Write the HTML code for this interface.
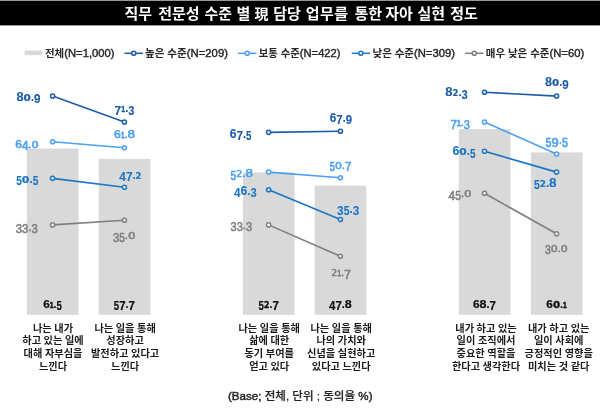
<!DOCTYPE html>
<html lang="ko"><head><meta charset="utf-8"><title>chart</title>
<style>
html,body{margin:0;padding:0;background:#fff;}
body{width:600px;height:411px;overflow:hidden;}
svg{display:block;}
text{font-family:"Liberation Sans","Noto Sans CJK KR",sans-serif;}
.t{font-size:15px;font-weight:700;fill:#fff;}
.lg{font-size:10.6px;font-weight:700;fill:#262626;}
.lg tspan{font-size:11.4px;font-weight:400;stroke:#262626;stroke-width:0.4px;}
.cat{font-size:10.2px;font-weight:700;fill:#1a1a1a;text-anchor:middle;word-spacing:-0.25px;}
.base{font-size:11.5px;font-weight:500;fill:#262626;stroke:#262626;stroke-width:0.2px;}
.base tspan{stroke-width:0.45px;}
</style></head><body>
<svg width="600" height="411" viewBox="0 0 600 411">
<rect width="600" height="411" fill="#fff"/>
<rect x="0" y="0.6" width="600" height="24.8" fill="#000"/>
<text class="t" y="18.5"><tspan x="124.4">직무</tspan> <tspan x="158.15">전문성</tspan> <tspan x="204.4">수준</tspan> <tspan x="236.4">별</tspan> <tspan x="254.4" font-size="14">現</tspan> <tspan x="273.15">담당</tspan> <tspan x="305.65" letter-spacing="0.5">업무를</tspan> <tspan x="354.4">통한</tspan> <tspan x="385.2">자아</tspan> <tspan x="417.5">실현</tspan> <tspan x="450.2">정도</tspan></text>

<rect x="24.5" y="50.6" width="17.5" height="4.6" fill="#d9d9d9"/>
<text class="lg" x="45" y="57.2" textLength="69.5" lengthAdjust="spacingAndGlyphs">전체<tspan>(N=1,000)</tspan></text>
<line x1="124.5" y1="53.3" x2="143" y2="53.3" stroke="#1d5ba8" stroke-width="1.5"/>
<circle cx="133.75" cy="53.3" r="2.05" fill="#fff" stroke="#1d5ba8" stroke-width="1.5"/>
<text class="lg" x="145" y="57.2" textLength="83" lengthAdjust="spacingAndGlyphs">높은 수준<tspan>(N=209)</tspan></text>
<line x1="238" y1="53.3" x2="256.5" y2="53.3" stroke="#4da0f0" stroke-width="1.5"/>
<circle cx="247.25" cy="53.3" r="2.05" fill="#fff" stroke="#4da0f0" stroke-width="1.5"/>
<text class="lg" x="258.75" y="57.2" textLength="81.75" lengthAdjust="spacingAndGlyphs">보통 수준<tspan>(N=422)</tspan></text>
<line x1="351.75" y1="53.3" x2="370" y2="53.3" stroke="#1a75c5" stroke-width="1.5"/>
<circle cx="360.875" cy="53.3" r="2.05" fill="#fff" stroke="#1a75c5" stroke-width="1.5"/>
<text class="lg" x="372.5" y="57.2" textLength="82.5" lengthAdjust="spacingAndGlyphs">낮은 수준<tspan>(N=309)</tspan></text>
<line x1="465" y1="53.3" x2="483.5" y2="53.3" stroke="#7f7f7f" stroke-width="1.5"/>
<circle cx="474.25" cy="53.3" r="2.05" fill="#fff" stroke="#7f7f7f" stroke-width="1.5"/>
<text class="lg" x="485.75" y="57.2" textLength="98.5" lengthAdjust="spacingAndGlyphs">매우 낮은 수준<tspan>(N=60)</tspan></text>
<rect x="26.9" y="148.581" width="51.6" height="166.219" fill="#d9d9d9"/>
<rect x="98.7" y="158.864" width="51.6" height="155.936" fill="#d9d9d9"/>
<text fill="#111" font-weight="700"><tspan x="43.26" y="308.10" font-size="11.55" textLength="6.58" lengthAdjust="spacingAndGlyphs" stroke="#111" stroke-width="0.20">6</tspan><tspan x="49.84" y="308.10" font-size="8.81" textLength="3.78" lengthAdjust="spacingAndGlyphs" stroke="#111" stroke-width="0.53">1</tspan><tspan x="53.62" y="308.10" font-size="11.55" textLength="3.00" lengthAdjust="spacingAndGlyphs" stroke="#111" stroke-width="0.20">.</tspan><tspan x="56.62" y="310.26" font-size="11.95" textLength="5.33" lengthAdjust="spacingAndGlyphs" stroke="#111" stroke-width="0.20">5</tspan></text>
<text class="cat" x="53" y="331.7">나는 내가</text>
<text class="cat" x="53" y="344.3">하고 있는 일에</text>
<text class="cat" x="53" y="356.9">대해 자부심을</text>
<text class="cat" x="53" y="369.5">느낀다</text>
<text fill="#111" font-weight="700"><tspan x="113.85" y="310.26" font-size="11.95" textLength="5.33" lengthAdjust="spacingAndGlyphs" stroke="#111" stroke-width="0.20">5</tspan><tspan x="119.17" y="310.26" font-size="11.95" textLength="6.39" lengthAdjust="spacingAndGlyphs" stroke="#111" stroke-width="0.20">7</tspan><tspan x="125.56" y="308.10" font-size="11.55" textLength="3.00" lengthAdjust="spacingAndGlyphs" stroke="#111" stroke-width="0.20">.</tspan><tspan x="128.56" y="310.26" font-size="11.95" textLength="6.39" lengthAdjust="spacingAndGlyphs" stroke="#111" stroke-width="0.20">7</tspan></text>
<text class="cat" x="125.1" y="331.7">나는 일을 통해</text>
<text class="cat" x="125.1" y="344.3">성장하고</text>
<text class="cat" x="125.1" y="356.9">발전하고 있다고</text>
<text class="cat" x="125.1" y="369.5">느낀다</text>
<line x1="52.6" y1="224.89" x2="124.4" y2="220.29" stroke="#7f7f7f" stroke-width="1.6"/>
<circle cx="52.6" cy="224.89" r="2.05" fill="#fff" stroke="#7f7f7f" stroke-width="1.5"/>
<circle cx="124.4" cy="220.29" r="2.05" fill="#fff" stroke="#7f7f7f" stroke-width="1.5"/>
<line x1="52.6" y1="178.347" x2="124.4" y2="187.277" stroke="#1a75c5" stroke-width="1.6"/>
<circle cx="52.6" cy="178.347" r="2.05" fill="#fff" stroke="#1a75c5" stroke-width="1.5"/>
<circle cx="124.4" cy="187.277" r="2.05" fill="#fff" stroke="#1a75c5" stroke-width="1.5"/>
<line x1="52.6" y1="141.816" x2="124.4" y2="147.769" stroke="#4da0f0" stroke-width="1.6"/>
<circle cx="52.6" cy="141.816" r="2.05" fill="#fff" stroke="#4da0f0" stroke-width="1.5"/>
<circle cx="124.4" cy="147.769" r="2.05" fill="#fff" stroke="#4da0f0" stroke-width="1.5"/>
<line x1="52.6" y1="96.0846" x2="124.4" y2="122.062" stroke="#1d5ba8" stroke-width="1.6"/>
<circle cx="52.6" cy="96.0846" r="2.05" fill="#fff" stroke="#1d5ba8" stroke-width="1.5"/>
<circle cx="124.4" cy="122.062" r="2.05" fill="#fff" stroke="#1d5ba8" stroke-width="1.5"/>
<rect x="242.9" y="172.394" width="51.6" height="142.406" fill="#d9d9d9"/>
<rect x="314.7" y="185.653" width="51.6" height="129.147" fill="#d9d9d9"/>
<text fill="#111" font-weight="700"><tspan x="258.39" y="310.26" font-size="11.95" textLength="5.33" lengthAdjust="spacingAndGlyphs" stroke="#111" stroke-width="0.20">5</tspan><tspan x="263.71" y="308.10" font-size="8.19" textLength="5.71" lengthAdjust="spacingAndGlyphs" stroke="#111" stroke-width="0.29" font-family="DejaVu Sans,sans-serif">2</tspan><tspan x="269.42" y="308.10" font-size="11.55" textLength="3.00" lengthAdjust="spacingAndGlyphs" stroke="#111" stroke-width="0.20">.</tspan><tspan x="272.42" y="310.26" font-size="11.95" textLength="6.39" lengthAdjust="spacingAndGlyphs" stroke="#111" stroke-width="0.20">7</tspan></text>
<text class="cat" x="269.2" y="331.7">나는 일을 통해</text>
<text class="cat" x="269.2" y="344.3">삶에 대한</text>
<text class="cat" x="269.2" y="356.9">동기 부여를</text>
<text class="cat" x="269.2" y="369.5">얻고 있다</text>
<text fill="#111" font-weight="700"><tspan x="329.02" y="310.26" font-size="11.95" textLength="6.39" lengthAdjust="spacingAndGlyphs" stroke="#111" stroke-width="0.20">4</tspan><tspan x="335.41" y="310.26" font-size="11.95" textLength="6.39" lengthAdjust="spacingAndGlyphs" stroke="#111" stroke-width="0.20">7</tspan><tspan x="341.80" y="308.10" font-size="11.55" textLength="3.00" lengthAdjust="spacingAndGlyphs" stroke="#111" stroke-width="0.20">.</tspan><tspan x="344.81" y="308.10" font-size="11.55" textLength="6.97" lengthAdjust="spacingAndGlyphs" stroke="#111" stroke-width="0.20">8</tspan></text>
<text class="cat" x="341.2" y="331.7">나는 일을 통해</text>
<text class="cat" x="341.2" y="344.3">나의 가치와</text>
<text class="cat" x="341.2" y="356.9">신념을 실현하고</text>
<text class="cat" x="341.2" y="369.5">있다고 느낀다</text>
<line x1="268.6" y1="224.89" x2="340.4" y2="256.28" stroke="#7f7f7f" stroke-width="1.6"/>
<circle cx="268.6" cy="224.89" r="2.05" fill="#fff" stroke="#7f7f7f" stroke-width="1.5"/>
<circle cx="340.4" cy="256.28" r="2.05" fill="#fff" stroke="#7f7f7f" stroke-width="1.5"/>
<line x1="268.6" y1="189.712" x2="340.4" y2="219.478" stroke="#1a75c5" stroke-width="1.6"/>
<circle cx="268.6" cy="189.712" r="2.05" fill="#fff" stroke="#1a75c5" stroke-width="1.5"/>
<circle cx="340.4" cy="219.478" r="2.05" fill="#fff" stroke="#1a75c5" stroke-width="1.5"/>
<line x1="268.6" y1="172.123" x2="340.4" y2="177.806" stroke="#4da0f0" stroke-width="1.6"/>
<circle cx="268.6" cy="172.123" r="2.05" fill="#fff" stroke="#4da0f0" stroke-width="1.5"/>
<circle cx="340.4" cy="177.806" r="2.05" fill="#fff" stroke="#4da0f0" stroke-width="1.5"/>
<line x1="268.6" y1="132.345" x2="340.4" y2="131.263" stroke="#1d5ba8" stroke-width="1.6"/>
<circle cx="268.6" cy="132.345" r="2.05" fill="#fff" stroke="#1d5ba8" stroke-width="1.5"/>
<circle cx="340.4" cy="131.263" r="2.05" fill="#fff" stroke="#1d5ba8" stroke-width="1.5"/>
<rect x="458.8" y="129.098" width="51.6" height="185.702" fill="#d9d9d9"/>
<rect x="530.9" y="152.369" width="51.6" height="162.431" fill="#d9d9d9"/>
<text fill="#111" font-weight="700"><tspan x="473.03" y="308.10" font-size="11.55" textLength="6.58" lengthAdjust="spacingAndGlyphs" stroke="#111" stroke-width="0.20">6</tspan><tspan x="479.61" y="308.10" font-size="11.55" textLength="6.97" lengthAdjust="spacingAndGlyphs" stroke="#111" stroke-width="0.20">8</tspan><tspan x="486.58" y="308.10" font-size="11.55" textLength="3.00" lengthAdjust="spacingAndGlyphs" stroke="#111" stroke-width="0.20">.</tspan><tspan x="489.58" y="310.26" font-size="11.95" textLength="6.39" lengthAdjust="spacingAndGlyphs" stroke="#111" stroke-width="0.20">7</tspan></text>
<text class="cat" x="486" y="331.7">내가 하고 있는</text>
<text class="cat" x="486" y="344.3">일이 조직에서</text>
<text class="cat" x="486" y="356.9">중요한 역할을</text>
<text class="cat" x="486" y="369.5">한다고 생각한다</text>
<text fill="#111" font-weight="700"><tspan x="546.34" y="308.10" font-size="11.55" textLength="6.58" lengthAdjust="spacingAndGlyphs" stroke="#111" stroke-width="0.20">6</tspan><tspan x="552.92" y="308.10" font-size="8.19" textLength="7.16" lengthAdjust="spacingAndGlyphs" stroke="#111" stroke-width="0.29" font-family="DejaVu Sans,sans-serif">0</tspan><tspan x="560.09" y="308.10" font-size="11.55" textLength="3.00" lengthAdjust="spacingAndGlyphs" stroke="#111" stroke-width="0.20">.</tspan><tspan x="563.09" y="308.10" font-size="8.81" textLength="3.78" lengthAdjust="spacingAndGlyphs" stroke="#111" stroke-width="0.53">1</tspan></text>
<text class="cat" x="558.7" y="331.7">내가 하고 있는</text>
<text class="cat" x="558.7" y="344.3">일이 사회에</text>
<text class="cat" x="558.7" y="356.9">긍정적인 영향을</text>
<text class="cat" x="558.7" y="369.5">미치는 것 같다</text>
<line x1="484.5" y1="193.23" x2="556.6" y2="233.82" stroke="#7f7f7f" stroke-width="1.6"/>
<circle cx="484.5" cy="193.23" r="2.05" fill="#fff" stroke="#7f7f7f" stroke-width="1.5"/>
<circle cx="556.6" cy="233.82" r="2.05" fill="#fff" stroke="#7f7f7f" stroke-width="1.5"/>
<line x1="484.5" y1="151.287" x2="556.6" y2="172.123" stroke="#1a75c5" stroke-width="1.6"/>
<circle cx="484.5" cy="151.287" r="2.05" fill="#fff" stroke="#1a75c5" stroke-width="1.5"/>
<circle cx="556.6" cy="172.123" r="2.05" fill="#fff" stroke="#1a75c5" stroke-width="1.5"/>
<line x1="484.5" y1="122.062" x2="556.6" y2="153.993" stroke="#4da0f0" stroke-width="1.6"/>
<circle cx="484.5" cy="122.062" r="2.05" fill="#fff" stroke="#4da0f0" stroke-width="1.5"/>
<circle cx="556.6" cy="153.993" r="2.05" fill="#fff" stroke="#4da0f0" stroke-width="1.5"/>
<line x1="484.5" y1="92.2962" x2="556.6" y2="96.0846" stroke="#1d5ba8" stroke-width="1.6"/>
<circle cx="484.5" cy="92.2962" r="2.05" fill="#fff" stroke="#1d5ba8" stroke-width="1.5"/>
<circle cx="556.6" cy="96.0846" r="2.05" fill="#fff" stroke="#1d5ba8" stroke-width="1.5"/>
<text fill="#1d5ba8" font-weight="700"><tspan x="16.50" y="100.95" font-size="12.29" textLength="7.11" lengthAdjust="spacingAndGlyphs" stroke="#1d5ba8" stroke-width="0.10">8</tspan><tspan x="23.61" y="100.95" font-size="8.72" textLength="7.31" lengthAdjust="spacingAndGlyphs" stroke="#1d5ba8" stroke-width="0.20" font-family="DejaVu Sans,sans-serif">0</tspan><tspan x="30.92" y="100.95" font-size="12.29" textLength="3.06" lengthAdjust="spacingAndGlyphs" stroke="#1d5ba8" stroke-width="0.10">.</tspan><tspan x="33.98" y="103.25" font-size="12.71" textLength="6.52" lengthAdjust="spacingAndGlyphs" stroke="#1d5ba8" stroke-width="0.10">9</tspan></text>
<text fill="#1d5ba8" font-weight="700"><tspan x="114.60" y="114.75" font-size="12.71" textLength="6.63" lengthAdjust="spacingAndGlyphs" stroke="#1d5ba8" stroke-width="0.10">7</tspan><tspan x="121.23" y="112.45" font-size="9.37" textLength="3.92" lengthAdjust="spacingAndGlyphs" stroke="#1d5ba8" stroke-width="0.45">1</tspan><tspan x="125.15" y="112.45" font-size="12.29" textLength="3.12" lengthAdjust="spacingAndGlyphs" stroke="#1d5ba8" stroke-width="0.10">.</tspan><tspan x="128.27" y="114.75" font-size="12.71" textLength="6.23" lengthAdjust="spacingAndGlyphs" stroke="#1d5ba8" stroke-width="0.10">3</tspan></text>
<text fill="#4da0f0" font-weight="400"><tspan x="15.30" y="147.80" font-size="11.59" textLength="6.69" lengthAdjust="spacingAndGlyphs" stroke="#4da0f0" stroke-width="0.60">6</tspan><tspan x="21.99" y="150.10" font-size="12.43" textLength="6.49" lengthAdjust="spacingAndGlyphs" stroke="#4da0f0" stroke-width="0.60">4</tspan><tspan x="28.48" y="147.80" font-size="11.59" textLength="3.05" lengthAdjust="spacingAndGlyphs" stroke="#4da0f0" stroke-width="0.60">.</tspan><tspan x="31.52" y="147.80" font-size="8.33" textLength="7.28" lengthAdjust="spacingAndGlyphs" stroke="#4da0f0" stroke-width="0.48" font-family="DejaVu Sans,sans-serif">0</tspan></text>
<text fill="#4da0f0" font-weight="400"><tspan x="114.00" y="137.75" font-size="11.59" textLength="6.77" lengthAdjust="spacingAndGlyphs" stroke="#4da0f0" stroke-width="0.60">6</tspan><tspan x="120.77" y="137.75" font-size="9.44" textLength="3.88" lengthAdjust="spacingAndGlyphs" stroke="#4da0f0" stroke-width="0.78">1</tspan><tspan x="124.65" y="137.75" font-size="11.59" textLength="3.09" lengthAdjust="spacingAndGlyphs" stroke="#4da0f0" stroke-width="0.60">.</tspan><tspan x="127.73" y="137.75" font-size="11.59" textLength="7.17" lengthAdjust="spacingAndGlyphs" stroke="#4da0f0" stroke-width="0.60">8</tspan></text>
<text fill="#1a75c5" font-weight="700"><tspan x="16.20" y="185.25" font-size="12.71" textLength="5.65" lengthAdjust="spacingAndGlyphs" stroke="#1a75c5" stroke-width="0.10">5</tspan><tspan x="21.85" y="182.95" font-size="8.72" textLength="7.61" lengthAdjust="spacingAndGlyphs" stroke="#1a75c5" stroke-width="0.20" font-family="DejaVu Sans,sans-serif">0</tspan><tspan x="29.46" y="182.95" font-size="12.29" textLength="3.19" lengthAdjust="spacingAndGlyphs" stroke="#1a75c5" stroke-width="0.10">.</tspan><tspan x="32.65" y="185.25" font-size="12.71" textLength="5.65" lengthAdjust="spacingAndGlyphs" stroke="#1a75c5" stroke-width="0.10">5</tspan></text>
<text fill="#1a75c5" font-weight="700"><tspan x="119.30" y="180.95" font-size="12.71" textLength="6.60" lengthAdjust="spacingAndGlyphs" stroke="#1a75c5" stroke-width="0.10">4</tspan><tspan x="125.90" y="180.95" font-size="12.71" textLength="6.60" lengthAdjust="spacingAndGlyphs" stroke="#1a75c5" stroke-width="0.10">7</tspan><tspan x="132.50" y="178.65" font-size="12.29" textLength="3.10" lengthAdjust="spacingAndGlyphs" stroke="#1a75c5" stroke-width="0.10">.</tspan><tspan x="135.60" y="178.65" font-size="8.72" textLength="5.90" lengthAdjust="spacingAndGlyphs" stroke="#1a75c5" stroke-width="0.20" font-family="DejaVu Sans,sans-serif">2</tspan></text>
<text fill="#7f7f7f" font-weight="400"><tspan x="15.80" y="233.45" font-size="12.43" textLength="6.29" lengthAdjust="spacingAndGlyphs" stroke="#7f7f7f" stroke-width="0.60">3</tspan><tspan x="22.09" y="233.45" font-size="12.43" textLength="6.29" lengthAdjust="spacingAndGlyphs" stroke="#7f7f7f" stroke-width="0.60">3</tspan><tspan x="28.37" y="231.15" font-size="11.59" textLength="3.14" lengthAdjust="spacingAndGlyphs" stroke="#7f7f7f" stroke-width="0.60">.</tspan><tspan x="31.51" y="233.45" font-size="12.43" textLength="6.29" lengthAdjust="spacingAndGlyphs" stroke="#7f7f7f" stroke-width="0.60">3</tspan></text>
<text fill="#7f7f7f" font-weight="400"><tspan x="112.90" y="241.75" font-size="12.43" textLength="6.34" lengthAdjust="spacingAndGlyphs" stroke="#7f7f7f" stroke-width="0.60">3</tspan><tspan x="119.24" y="241.75" font-size="12.43" textLength="5.62" lengthAdjust="spacingAndGlyphs" stroke="#7f7f7f" stroke-width="0.60">5</tspan><tspan x="124.86" y="239.45" font-size="11.59" textLength="3.17" lengthAdjust="spacingAndGlyphs" stroke="#7f7f7f" stroke-width="0.60">.</tspan><tspan x="128.03" y="239.45" font-size="8.33" textLength="7.57" lengthAdjust="spacingAndGlyphs" stroke="#7f7f7f" stroke-width="0.48" font-family="DejaVu Sans,sans-serif">0</tspan></text>
<text fill="#1d5ba8" font-weight="700"><tspan x="229.70" y="138.15" font-size="12.29" textLength="6.74" lengthAdjust="spacingAndGlyphs" stroke="#1d5ba8" stroke-width="0.10">6</tspan><tspan x="236.44" y="140.45" font-size="12.71" textLength="6.54" lengthAdjust="spacingAndGlyphs" stroke="#1d5ba8" stroke-width="0.10">7</tspan><tspan x="242.98" y="138.15" font-size="12.29" textLength="3.07" lengthAdjust="spacingAndGlyphs" stroke="#1d5ba8" stroke-width="0.10">.</tspan><tspan x="246.05" y="140.45" font-size="12.71" textLength="5.45" lengthAdjust="spacingAndGlyphs" stroke="#1d5ba8" stroke-width="0.10">5</tspan></text>
<text fill="#1d5ba8" font-weight="700"><tspan x="329.80" y="121.65" font-size="12.29" textLength="6.54" lengthAdjust="spacingAndGlyphs" stroke="#1d5ba8" stroke-width="0.10">6</tspan><tspan x="336.34" y="123.95" font-size="12.71" textLength="6.34" lengthAdjust="spacingAndGlyphs" stroke="#1d5ba8" stroke-width="0.10">7</tspan><tspan x="342.68" y="121.65" font-size="12.29" textLength="2.98" lengthAdjust="spacingAndGlyphs" stroke="#1d5ba8" stroke-width="0.10">.</tspan><tspan x="345.66" y="123.95" font-size="12.71" textLength="6.34" lengthAdjust="spacingAndGlyphs" stroke="#1d5ba8" stroke-width="0.10">9</tspan></text>
<text fill="#4da0f0" font-weight="400"><tspan x="230.60" y="179.50" font-size="12.43" textLength="5.65" lengthAdjust="spacingAndGlyphs" stroke="#4da0f0" stroke-width="0.60">5</tspan><tspan x="236.25" y="177.20" font-size="8.33" textLength="6.06" lengthAdjust="spacingAndGlyphs" stroke="#4da0f0" stroke-width="0.48" font-family="DejaVu Sans,sans-serif">2</tspan><tspan x="242.32" y="177.20" font-size="11.59" textLength="3.19" lengthAdjust="spacingAndGlyphs" stroke="#4da0f0" stroke-width="0.60">.</tspan><tspan x="245.50" y="177.20" font-size="11.59" textLength="7.40" lengthAdjust="spacingAndGlyphs" stroke="#4da0f0" stroke-width="0.60">8</tspan></text>
<text fill="#4da0f0" font-weight="400"><tspan x="329.80" y="170.95" font-size="12.43" textLength="5.18" lengthAdjust="spacingAndGlyphs" stroke="#4da0f0" stroke-width="0.60">5</tspan><tspan x="334.98" y="168.65" font-size="8.33" textLength="6.97" lengthAdjust="spacingAndGlyphs" stroke="#4da0f0" stroke-width="0.48" font-family="DejaVu Sans,sans-serif">0</tspan><tspan x="341.96" y="168.65" font-size="11.59" textLength="2.92" lengthAdjust="spacingAndGlyphs" stroke="#4da0f0" stroke-width="0.60">.</tspan><tspan x="344.88" y="170.95" font-size="12.43" textLength="6.22" lengthAdjust="spacingAndGlyphs" stroke="#4da0f0" stroke-width="0.60">7</tspan></text>
<text fill="#1a75c5" font-weight="700"><tspan x="234.00" y="197.45" font-size="12.71" textLength="6.57" lengthAdjust="spacingAndGlyphs" stroke="#1a75c5" stroke-width="0.10">4</tspan><tspan x="240.57" y="195.15" font-size="12.29" textLength="6.77" lengthAdjust="spacingAndGlyphs" stroke="#1a75c5" stroke-width="0.10">6</tspan><tspan x="247.34" y="195.15" font-size="12.29" textLength="3.09" lengthAdjust="spacingAndGlyphs" stroke="#1a75c5" stroke-width="0.10">.</tspan><tspan x="250.43" y="197.45" font-size="12.71" textLength="6.17" lengthAdjust="spacingAndGlyphs" stroke="#1a75c5" stroke-width="0.10">3</tspan></text>
<text fill="#1a75c5" font-weight="700"><tspan x="337.10" y="215.25" font-size="12.71" textLength="6.55" lengthAdjust="spacingAndGlyphs" stroke="#1a75c5" stroke-width="0.10">3</tspan><tspan x="343.65" y="215.25" font-size="12.71" textLength="5.81" lengthAdjust="spacingAndGlyphs" stroke="#1a75c5" stroke-width="0.10">5</tspan><tspan x="349.47" y="212.95" font-size="12.29" textLength="3.28" lengthAdjust="spacingAndGlyphs" stroke="#1a75c5" stroke-width="0.10">.</tspan><tspan x="352.75" y="215.25" font-size="12.71" textLength="6.55" lengthAdjust="spacingAndGlyphs" stroke="#1a75c5" stroke-width="0.10">3</tspan></text>
<text fill="#7f7f7f" font-weight="400"><tspan x="230.60" y="231.45" font-size="12.43" textLength="6.11" lengthAdjust="spacingAndGlyphs" stroke="#7f7f7f" stroke-width="0.60">3</tspan><tspan x="236.71" y="231.45" font-size="12.43" textLength="6.11" lengthAdjust="spacingAndGlyphs" stroke="#7f7f7f" stroke-width="0.60">3</tspan><tspan x="242.83" y="229.15" font-size="11.59" textLength="3.06" lengthAdjust="spacingAndGlyphs" stroke="#7f7f7f" stroke-width="0.60">.</tspan><tspan x="245.89" y="231.45" font-size="12.43" textLength="6.11" lengthAdjust="spacingAndGlyphs" stroke="#7f7f7f" stroke-width="0.60">3</tspan></text>
<text fill="#7f7f7f" font-weight="400"><tspan x="331.30" y="276.25" font-size="8.33" textLength="5.90" lengthAdjust="spacingAndGlyphs" stroke="#7f7f7f" stroke-width="0.48" font-family="DejaVu Sans,sans-serif">2</tspan><tspan x="337.20" y="276.25" font-size="9.44" textLength="3.90" lengthAdjust="spacingAndGlyphs" stroke="#7f7f7f" stroke-width="0.78">1</tspan><tspan x="341.10" y="276.25" font-size="11.59" textLength="3.10" lengthAdjust="spacingAndGlyphs" stroke="#7f7f7f" stroke-width="0.60">.</tspan><tspan x="344.20" y="278.55" font-size="12.43" textLength="6.60" lengthAdjust="spacingAndGlyphs" stroke="#7f7f7f" stroke-width="0.60">7</tspan></text>
<text fill="#1d5ba8" font-weight="700"><tspan x="445.30" y="96.45" font-size="12.29" textLength="7.23" lengthAdjust="spacingAndGlyphs" stroke="#1d5ba8" stroke-width="0.10">8</tspan><tspan x="452.53" y="96.45" font-size="8.72" textLength="5.93" lengthAdjust="spacingAndGlyphs" stroke="#1d5ba8" stroke-width="0.20" font-family="DejaVu Sans,sans-serif">2</tspan><tspan x="458.46" y="96.45" font-size="12.29" textLength="3.11" lengthAdjust="spacingAndGlyphs" stroke="#1d5ba8" stroke-width="0.10">.</tspan><tspan x="461.57" y="98.75" font-size="12.71" textLength="6.23" lengthAdjust="spacingAndGlyphs" stroke="#1d5ba8" stroke-width="0.10">3</tspan></text>
<text fill="#1d5ba8" font-weight="700"><tspan x="545.00" y="86.45" font-size="12.29" textLength="7.02" lengthAdjust="spacingAndGlyphs" stroke="#1d5ba8" stroke-width="0.10">8</tspan><tspan x="552.02" y="86.45" font-size="8.72" textLength="7.22" lengthAdjust="spacingAndGlyphs" stroke="#1d5ba8" stroke-width="0.20" font-family="DejaVu Sans,sans-serif">0</tspan><tspan x="559.24" y="86.45" font-size="12.29" textLength="3.02" lengthAdjust="spacingAndGlyphs" stroke="#1d5ba8" stroke-width="0.10">.</tspan><tspan x="562.26" y="88.75" font-size="12.71" textLength="6.44" lengthAdjust="spacingAndGlyphs" stroke="#1d5ba8" stroke-width="0.10">9</tspan></text>
<text fill="#4da0f0" font-weight="400"><tspan x="450.40" y="128.65" font-size="12.43" textLength="6.53" lengthAdjust="spacingAndGlyphs" stroke="#4da0f0" stroke-width="0.60">7</tspan><tspan x="456.93" y="126.35" font-size="9.44" textLength="3.86" lengthAdjust="spacingAndGlyphs" stroke="#4da0f0" stroke-width="0.78">1</tspan><tspan x="460.79" y="126.35" font-size="11.59" textLength="3.07" lengthAdjust="spacingAndGlyphs" stroke="#4da0f0" stroke-width="0.60">.</tspan><tspan x="463.86" y="128.65" font-size="12.43" textLength="6.14" lengthAdjust="spacingAndGlyphs" stroke="#4da0f0" stroke-width="0.60">3</tspan></text>
<text fill="#4da0f0" font-weight="400"><tspan x="545.50" y="146.65" font-size="12.43" textLength="5.98" lengthAdjust="spacingAndGlyphs" stroke="#4da0f0" stroke-width="0.60">5</tspan><tspan x="551.48" y="146.65" font-size="12.43" textLength="7.17" lengthAdjust="spacingAndGlyphs" stroke="#4da0f0" stroke-width="0.60">9</tspan><tspan x="558.65" y="144.35" font-size="11.59" textLength="3.37" lengthAdjust="spacingAndGlyphs" stroke="#4da0f0" stroke-width="0.60">.</tspan><tspan x="562.02" y="146.65" font-size="12.43" textLength="5.98" lengthAdjust="spacingAndGlyphs" stroke="#4da0f0" stroke-width="0.60">5</tspan></text>
<text fill="#1a75c5" font-weight="700"><tspan x="452.50" y="155.45" font-size="12.29" textLength="6.86" lengthAdjust="spacingAndGlyphs" stroke="#1a75c5" stroke-width="0.10">6</tspan><tspan x="459.36" y="155.45" font-size="8.72" textLength="7.46" lengthAdjust="spacingAndGlyphs" stroke="#1a75c5" stroke-width="0.20" font-family="DejaVu Sans,sans-serif">0</tspan><tspan x="466.82" y="155.45" font-size="12.29" textLength="3.13" lengthAdjust="spacingAndGlyphs" stroke="#1a75c5" stroke-width="0.10">.</tspan><tspan x="469.95" y="157.75" font-size="12.71" textLength="5.55" lengthAdjust="spacingAndGlyphs" stroke="#1a75c5" stroke-width="0.10">5</tspan></text>
<text fill="#1a75c5" font-weight="700"><tspan x="533.90" y="189.05" font-size="12.71" textLength="5.78" lengthAdjust="spacingAndGlyphs" stroke="#1a75c5" stroke-width="0.10">5</tspan><tspan x="539.68" y="186.75" font-size="8.72" textLength="6.20" lengthAdjust="spacingAndGlyphs" stroke="#1a75c5" stroke-width="0.20" font-family="DejaVu Sans,sans-serif">2</tspan><tspan x="545.88" y="186.75" font-size="12.29" textLength="3.26" lengthAdjust="spacingAndGlyphs" stroke="#1a75c5" stroke-width="0.10">.</tspan><tspan x="549.14" y="186.75" font-size="12.29" textLength="7.56" lengthAdjust="spacingAndGlyphs" stroke="#1a75c5" stroke-width="0.10">8</tspan></text>
<text fill="#7f7f7f" font-weight="400"><tspan x="448.60" y="199.55" font-size="12.43" textLength="6.72" lengthAdjust="spacingAndGlyphs" stroke="#7f7f7f" stroke-width="0.60">4</tspan><tspan x="455.32" y="199.55" font-size="12.43" textLength="5.60" lengthAdjust="spacingAndGlyphs" stroke="#7f7f7f" stroke-width="0.60">5</tspan><tspan x="460.91" y="197.25" font-size="11.59" textLength="3.15" lengthAdjust="spacingAndGlyphs" stroke="#7f7f7f" stroke-width="0.60">.</tspan><tspan x="464.07" y="197.25" font-size="8.33" textLength="7.53" lengthAdjust="spacingAndGlyphs" stroke="#7f7f7f" stroke-width="0.48" font-family="DejaVu Sans,sans-serif">0</tspan></text>
<text fill="#7f7f7f" font-weight="400"><tspan x="545.00" y="254.45" font-size="12.43" textLength="5.87" lengthAdjust="spacingAndGlyphs" stroke="#7f7f7f" stroke-width="0.60">3</tspan><tspan x="550.87" y="252.15" font-size="8.33" textLength="7.00" lengthAdjust="spacingAndGlyphs" stroke="#7f7f7f" stroke-width="0.48" font-family="DejaVu Sans,sans-serif">0</tspan><tspan x="557.87" y="252.15" font-size="11.59" textLength="2.93" lengthAdjust="spacingAndGlyphs" stroke="#7f7f7f" stroke-width="0.60">.</tspan><tspan x="560.80" y="252.15" font-size="8.33" textLength="7.00" lengthAdjust="spacingAndGlyphs" stroke="#7f7f7f" stroke-width="0.48" font-family="DejaVu Sans,sans-serif">0</tspan></text>
<text class="base" x="228" y="399.5" textLength="144.5" lengthAdjust="spacingAndGlyphs"><tspan>(Base;</tspan> 전체, 단위 ; 동의율 <tspan>%)</tspan></text>
</svg></body></html>
